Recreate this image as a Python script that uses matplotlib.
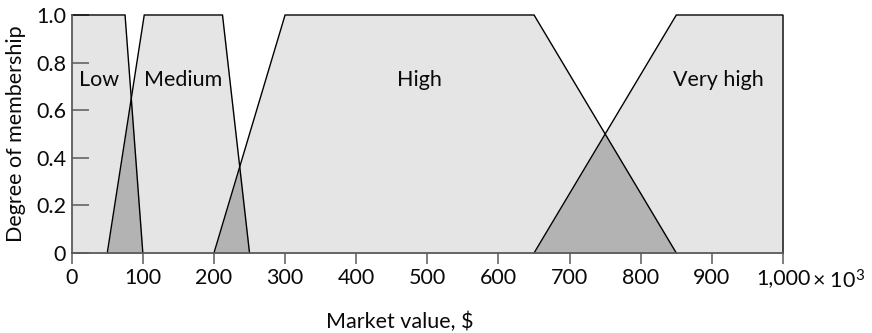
import numpy as np
import matplotlib
matplotlib.use("Agg")
import matplotlib.pyplot as plt

plt.rcParams['font.family'] = ['Lato', 'DejaVu Sans']
plt.rcParams['mathtext.fontset'] = 'custom'
plt.rcParams['mathtext.rm'] = 'Lato'
plt.rcParams['mathtext.it'] = 'Lato'

# Membership function breakpoints (market value, x 10^3 $)
low_x = [0, 75, 100]
low_y = [1, 1, 0]
medium_x = [50, 102, 212, 250]
medium_y = [0, 1, 1, 0]
high_x = [200, 300, 650, 850]
high_y = [0, 1, 1, 0]
vhigh_x = [650, 850, 1000, 1000]
vhigh_y = [0, 1, 1, 0]

set_names = ["Low", "Medium", "High", "Very high"]
label_x = [38.6, 156, 489, 909]
label_y = 0.70

xticks = [0, 100, 200, 300, 400, 500, 600, 700, 800, 900, 1000]
xticklabels = ["0", "100", "200", "300", "400", "500", "600", "700", "800", "900", "1,000"]
yticks = [0, 0.2, 0.4, 0.6, 0.8, 1.0]
yticklabels = ["0", "0.2", "0.4", "0.6", "0.8", "1.0"]

W, H, DPI = 872, 333, 100
fig = plt.figure(figsize=(W / DPI, H / DPI), dpi=DPI)
ax = fig.add_axes([71.7 / W, (H - 253) / H, 711.3 / W, 238 / H])

LIGHT = "#e5e5e5"
DARK = "#b3b3b3"
AXC = "#5a5a5a"
TXT = "#0a0a0a"
FS = 15.5

grid = np.linspace(0, 1000, 4001)
def mu(xs, ys):
    return np.interp(grid, xs, ys, left=0, right=0)

m_low = np.interp(grid, low_x, low_y, left=1, right=0)
m_med = mu(medium_x, medium_y)
m_high = mu(high_x, high_y)
m_vh = np.where(grid >= vhigh_x[0], np.interp(grid, vhigh_x[:3], vhigh_y[:3]), 0)

union = np.max(np.vstack([m_low, m_med, m_high, m_vh]), axis=0)
ax.fill_between(grid, 0, union, color=LIGHT, lw=0, zorder=1)
for a, b in [(m_low, m_med), (m_med, m_high), (m_high, m_vh)]:
    ov = np.minimum(a, b)
    ax.fill_between(grid, 0, ov, where=ov > 0, color=DARK, lw=0, zorder=2)

for xs, ys in [(low_x, low_y), (medium_x, medium_y), (high_x, high_y), (vhigh_x, vhigh_y)]:
    ax.plot(xs, ys, color="black", lw=1.0, zorder=3, clip_on=False, solid_joinstyle='miter')

for name, lx in zip(set_names, label_x):
    ax.text(lx, label_y, name, ha='center', va='baseline', fontsize=FS, color=TXT, zorder=4)

ax.set_xlim(0, 1000)
ax.set_ylim(0, 1)
ax.set_xticks(xticks)
ax.set_xticklabels(xticklabels)
ax.set_yticks(yticks)
ax.set_yticklabels(yticklabels)
ax.tick_params(axis='x', direction='out', length=8, width=1.1, color=AXC, labelsize=FS, pad=3, labelcolor=TXT)
ax.tick_params(axis='y', direction='in', length=12, width=1.1, color=AXC, labelsize=FS, pad=4, labelcolor=TXT)

for s in ['top', 'right']:
    ax.spines[s].set_visible(False)
for s in ['left', 'bottom']:
    ax.spines[s].set_color(AXC)
    ax.spines[s].set_linewidth(1.3)
    ax.spines[s].set_zorder(5)

ax.annotate("\u00d7 10$^{3}$", xy=(1000, 0), xycoords='data', xytext=(21, -25.7),
            textcoords='offset points', ha='left', va='baseline', fontsize=FS,
            color=TXT, annotation_clip=False)

ax.set_xlabel("Market value, $", fontsize=FS, color=TXT)
ax.xaxis.set_label_coords((399.5 - 71.7) / 711.3, -(328.3 - 253) / 238)
ax.xaxis.label.set_va('baseline')
ax.set_ylabel("Degree of membership", fontsize=FS, color=TXT)
ax.yaxis.set_label_coords(-(71.7 - 6.0) / 711.3, 0.5)
ax.yaxis.label.set_va('top')

fig.savefig("out.png", dpi=DPI)
